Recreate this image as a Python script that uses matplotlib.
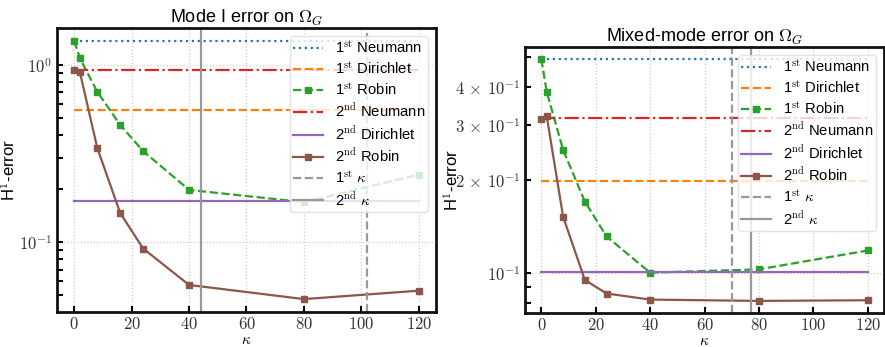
import numpy as np
import matplotlib
matplotlib.use("Agg")
import matplotlib.pyplot as plt
from matplotlib.ticker import FuncFormatter, LogLocator

plt.rcParams["font.family"] = ["Liberation Sans", "DejaVu Sans"]
plt.rcParams["mathtext.fontset"] = "cm"

kappa = [0, 2, 8, 16, 24, 40, 80, 120]

# Mode I errors
mode1_neumann1 = 1.364
mode1_dirichlet1 = 0.553
mode1_robin1 = [1.364, 1.087, 0.706, 0.458, 0.326, 0.197, 0.168, 0.240]
mode1_neumann2 = 0.933
mode1_dirichlet2 = 0.170
mode1_robin2 = [0.933, 0.905, 0.341, 0.146, 0.092, 0.0573, 0.0477, 0.0532]
mode1_kappa1 = 102
mode1_kappa2 = 44

# Mixed-mode errors
mixed_neumann1 = 0.492
mixed_dirichlet1 = 0.198
mixed_robin1 = [0.492, 0.385, 0.250, 0.170, 0.131, 0.100, 0.1025, 0.118]
mixed_neumann2 = 0.317
mixed_dirichlet2 = 0.1002
mixed_robin2 = [0.315, 0.321, 0.152, 0.0947, 0.0856, 0.0818, 0.0810, 0.0814]
mixed_kappa1 = 70
mixed_kappa2 = 77

titles = [r"Mode I error on $\Omega_G$", r"Mixed-mode error on $\Omega_G$"]


def log_label(v, pos):
    if v <= 0:
        return ""
    e = int(np.floor(np.log10(v) + 1e-9))
    m = v / 10 ** e
    if abs(m - 1) < 1e-6:
        return r"$10^{%d}$" % e
    return r"$%d\,\times\,10^{%d}$" % (round(m), e)


def minor_label(v, pos):
    e = np.floor(np.log10(v) + 1e-9)
    return log_label(v, pos) if round(v / 10 ** e) in (2, 3, 4) else ""


def draw(ax, title, n1, d1, r1, n2, d2, r2, k1, k2, minor_labels, ylab_x, xlab_y):
    lw = 1.6
    ax.plot(kappa, [n1] * len(kappa), ls=":", color="tab:blue", lw=lw,
            label=r"1$^{\mathrm{st}}$ Neumann")
    ax.plot(kappa, [d1] * len(kappa), ls="--", color="tab:orange", lw=lw,
            label=r"1$^{\mathrm{st}}$ Dirichlet")
    ax.plot(kappa, r1, ls="--", color="tab:green", lw=lw, marker="s", ms=5,
            label=r"1$^{\mathrm{st}}$ Robin")
    ax.plot(kappa, [n2] * len(kappa), ls="-.", color="tab:red", lw=lw,
            label=r"2$^{\mathrm{nd}}$ Neumann")
    ax.plot(kappa, [d2] * len(kappa), ls="-", color="tab:purple", lw=lw,
            label=r"2$^{\mathrm{nd}}$ Dirichlet")
    ax.plot(kappa, r2, ls="-", color="tab:brown", lw=lw, marker="s", ms=5,
            label=r"2$^{\mathrm{nd}}$ Robin")
    ax.axvline(k1, ls="--", color="#999999", lw=lw, label=r"1$^{\mathrm{st}}$ $\kappa$")
    ax.axvline(k2, ls="-", color="#999999", lw=lw, label=r"2$^{\mathrm{nd}}$ $\kappa$")

    ax.set_yscale("log")
    ax.set_xticks([0, 20, 40, 60, 80, 100, 120])
    ax.xaxis.set_major_formatter(FuncFormatter(lambda v, p: r"$%d$" % v))
    ax.yaxis.set_major_locator(LogLocator(base=10, numticks=10))
    ax.yaxis.set_minor_locator(LogLocator(base=10, subs=np.arange(2, 10), numticks=10))
    ax.yaxis.set_major_formatter(FuncFormatter(log_label))
    if minor_labels:
        ax.yaxis.set_minor_formatter(FuncFormatter(minor_label))
    else:
        ax.yaxis.set_minor_formatter(FuncFormatter(lambda v, p: ""))

    ax.grid(True, which="major", ls=":", color="#cccccc", lw=0.9)
    ax.set_axisbelow(True)
    for s in ax.spines.values():
        s.set_linewidth(2.0)
        s.set_color("#111111")
    ax.tick_params(which="both", direction="in", length=4, width=1.5,
                   labelsize=12, labelcolor="#333333", top=False, right=False)
    ax.tick_params(axis="x", pad=3)

    ax.set_title(title, fontsize=13, pad=3)
    ax.set_xlabel(r"$\kappa$", fontsize=11)
    ax.xaxis.set_label_coords(0.5, xlab_y)
    ax.set_ylabel(r"H$^1$-error", fontsize=12)
    ax.yaxis.set_label_coords(ylab_x, 0.5)
    leg = ax.legend(loc="upper right", fontsize=10.6, framealpha=0.8,
                    borderaxespad=0.55, labelspacing=0.3, handlelength=2.0,
                    borderpad=0.2, handletextpad=0.8)
    leg.get_frame().set_edgecolor("#dddddd")


fig = plt.figure(figsize=(8.85, 3.47), dpi=100)
ax1 = fig.add_axes([57 / 885, 35 / 347, 379 / 885, 284 / 347])
ax2 = fig.add_axes([525 / 885, 34 / 347, 359 / 885, 266 / 347])

draw(ax1, titles[0], mode1_neumann1, mode1_dirichlet1, mode1_robin1,
     mode1_neumann2, mode1_dirichlet2, mode1_robin2, mode1_kappa1, mode1_kappa2,
     False, (18 - 57) / 379, (312 - 333) / 284)
draw(ax2, titles[1], mixed_neumann1, mixed_dirichlet1, mixed_robin1,
     mixed_neumann2, mixed_dirichlet2, mixed_robin2, mixed_kappa1, mixed_kappa2,
     True, (461 - 525) / 359, (313 - 334) / 266)

fig.savefig("out.png", dpi=100)
